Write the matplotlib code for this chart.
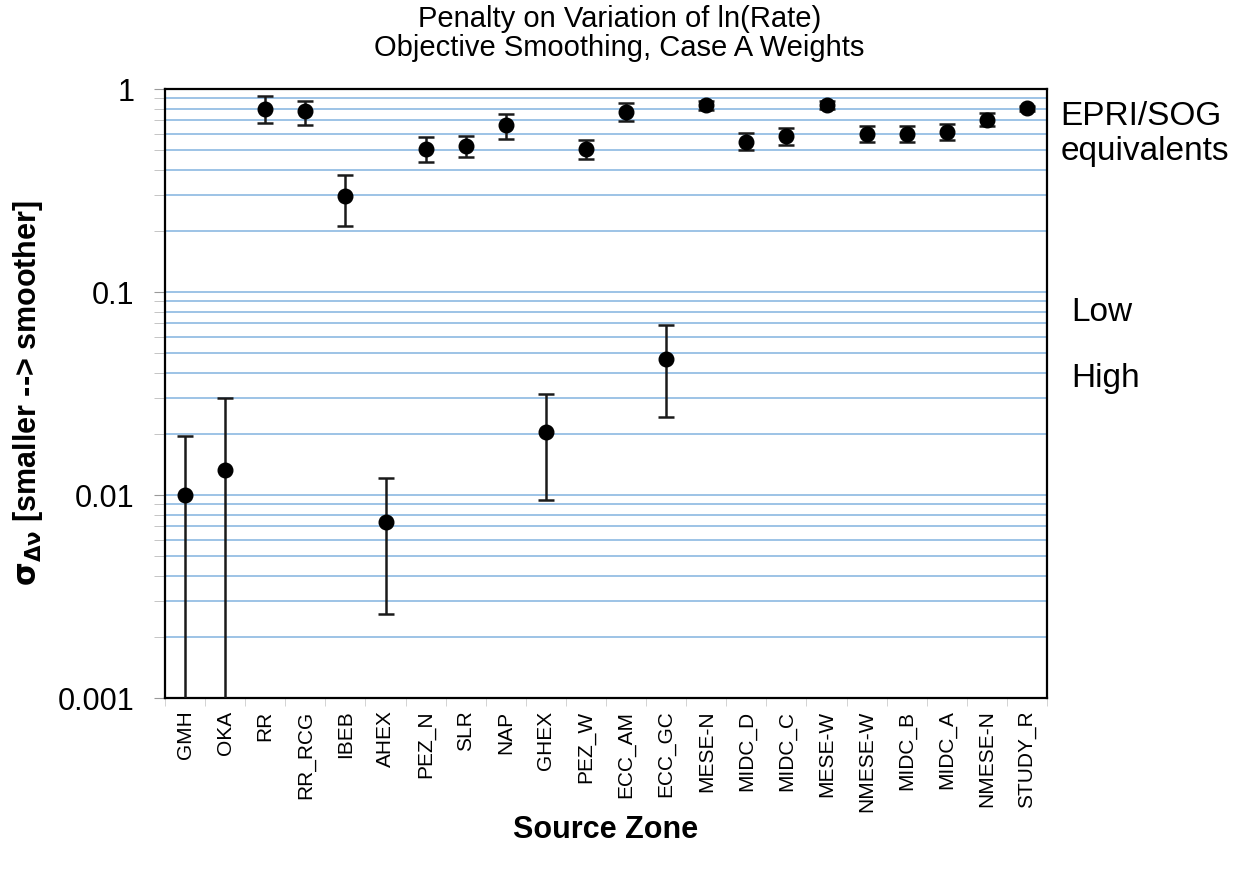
import numpy as np
import matplotlib
matplotlib.use('Agg')
from matplotlib import pyplot as plt
from matplotlib.ticker import FixedLocator, NullFormatter, LogLocator
import matplotlib.transforms as mtransforms

plt.rcParams['font.family'] = ['Liberation Sans', 'DejaVu Sans']

zones = ['GMH', 'OKA', 'RR', 'RR_RCG', 'IBEB', 'AHEX', 'PEZ_N', 'SLR', 'NAP', 'GHEX',
         'PEZ_W', 'ECC_AM', 'ECC_GC', 'MESE-N', 'MIDC_D', 'MIDC_C', 'MESE-W', 'NMESE-W',
         'MIDC_B', 'MIDC_A', 'NMESE-N', 'STUDY_R']
sigma = [0.0100, 0.0133, 0.80, 0.776, 0.296, 0.0074, 0.508, 0.526, 0.662, 0.0205,
         0.504, 0.773, 0.0466, 0.831, 0.548, 0.587, 0.834, 0.600,
         0.600, 0.612, 0.706, 0.803]
upper = [0.0196, 0.030, 0.92, 0.877, 0.379, 0.0121, 0.58, 0.589, 0.755, 0.0315,
         0.558, 0.857, 0.0688, 0.872, 0.605, 0.64, 0.872, 0.657,
         0.66, 0.67, 0.76, 0.828]
# lower bounds of GMH and OKA run off the bottom of the axis
lower = [1e-5, 1e-5, 0.68, 0.668, 0.212, 0.0026, 0.439, 0.464, 0.567, 0.0094,
         0.45, 0.693, 0.0243, 0.792, 0.499, 0.532, 0.795, 0.546,
         0.546, 0.559, 0.658, 0.780]

sigma = np.array(sigma)
yerr = [sigma - np.array(lower), np.array(upper) - sigma]
x = np.arange(len(zones))

fig = plt.figure(figsize=(12.34, 8.71), dpi=100)
ax = fig.add_axes([0.1337, 0.1986, 0.7148, 0.6992])

ax.errorbar(x, sigma, yerr=yerr, fmt='o', color='black', markersize=10.5,
            ecolor='#1a1a1a', elinewidth=1.8, capsize=6, capthick=1.8, zorder=3)

ax.set_yscale('log')
ax.set_ylim(0.001, 1)
ax.set_xlim(-0.5, len(zones) - 0.5)

ax.yaxis.set_major_locator(FixedLocator([0.001, 0.01, 0.1, 1]))
ax.set_yticklabels(['0.001', '0.01', '0.1', '1'])
ax.yaxis.set_minor_locator(LogLocator(base=10, subs=np.arange(2, 10)))
ax.yaxis.set_minor_formatter(NullFormatter())
ax.grid(True, which='both', axis='y', color='#9dc3e6', linewidth=1.4, zorder=0)
ax.set_axisbelow(True)
ax.tick_params(axis='y', which='major', labelsize=22, length=8, color='#999999', pad=14)
ax.tick_params(axis='y', which='minor', length=8, color='#bbbbbb')

ax.set_xticks(x)
ax.set_xticklabels(zones, rotation=90, fontsize=15)
ax.set_xticks(np.arange(len(zones) + 1) - 0.5, minor=True)
ax.tick_params(axis='x', which='major', length=0, pad=9)
ax.tick_params(axis='x', which='minor', length=6, color='#cccccc')

for s in ax.spines.values():
    s.set_linewidth(1.6)
    s.set_color('black')

ax.set_ylabel(r'$\mathbf{\sigma_{\Delta\nu}}$ [smaller --> smoother]', fontsize=22,
              fontweight='bold', labelpad=9)
ax.set_xlabel('Source Zone', fontsize=22, fontweight='bold', labelpad=2)
ax.set_title('Penalty on Variation of ln(Rate)\nObjective Smoothing, Case A Weights',
             fontsize=21, pad=24, x=0.515, linespacing=1.05)

trans = mtransforms.blended_transform_factory(ax.transAxes, ax.transData)
ax.text(1.015, 0.6, 'EPRI/SOG\nequivalents', transform=trans, fontsize=24,
        va='center', ha='left', linespacing=1.15)
ax.text(1.028, 0.079, 'Low', transform=trans, fontsize=24, va='center', ha='left')
ax.text(1.028, 0.0377, 'High', transform=trans, fontsize=24, va='center', ha='left')

fig.savefig('out.png', dpi=100)
